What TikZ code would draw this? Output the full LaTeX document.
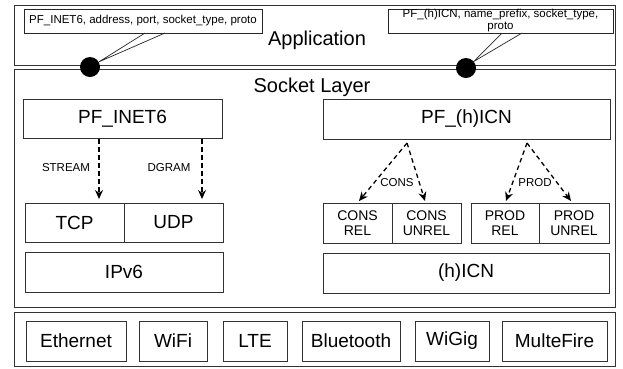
\documentclass[tikz,border=0pt]{standalone}
\usepackage{fontspec}
\setmainfont{Liberation Sans}
\usetikzlibrary{arrows.meta}
\tikzset{
  frame/.style={draw=black!80, line width=0.9pt},
  box/.style={draw=black!80, line width=0.8pt, fill=white, inner sep=0pt, align=center},
  big/.style={font=\fontsize{20}{22}\selectfont},
  mid/.style={font=\fontsize{19}{21}\selectfont},
  small/.style={font=\fontsize{14}{15}\selectfont},
  tiny/.style={font=\fontsize{11.5}{12}\selectfont},
  dasharrow/.style={draw=black, line width=1.3pt, dash pattern=on 4.5pt off 3.5pt, -{Stealth[length=9pt,width=8pt]}},
  dot/.style={circle, fill=black, inner sep=0pt, minimum size=20pt},
  callout/.style={draw=black!85, line width=0.7pt}
}
\begin{document}
\begin{tikzpicture}[x=1pt,y=-1pt]
\useasboundingbox (0,0) rectangle (623,368);
% layer frames
\node[box, frame, minimum width=601, minimum height=60] (app) at (314.5,35) {};
\node[big] (applbl) at (317,40) {Application};
\node[box, frame, minimum width=601, minimum height=238] (sock) at (314.5,188) {};
\node[big] (socklbl) at (312,87) {Socket Layer};
\node[box, frame, minimum width=601, minimum height=54] (link) at (314.5,339) {};
% socket layer boxes
\node[box, mid, minimum width=199, minimum height=39] (inet) at (122.5,118.5) {PF\_INET6};
\node[box, mid, minimum width=287, minimum height=40] (icn) at (466.5,119) {PF\_(h)ICN};
\node[box, mid, minimum width=99, minimum height=39] (tcp) at (74.5,222.5) {TCP};
\node[box, mid, minimum width=99, minimum height=39] (udp) at (173.5,222.5) {UDP};
\node[box, mid, minimum width=198, minimum height=40] (ipv6) at (124,272) {IPv6};
\node[box, small, minimum width=69, minimum height=40] (consrel) at (357.5,223) {CONS\\REL};
\node[box, small, minimum width=69, minimum height=40] (consunrel) at (426.5,223) {CONS\\UNREL};
\node[box, small, minimum width=68, minimum height=40] (prodrel) at (505,223) {PROD\\REL};
\node[box, small, minimum width=70, minimum height=40] (produnrel) at (574,223) {PROD\\UNREL};
\node[box, mid, minimum width=286, minimum height=40] (hicn) at (466,273) {(h)ICN};
% arrows, left
\coordinate (s1) at (99,139);
\coordinate (s2) at (202,139);
\coordinate (t1) at (99,199);
\coordinate (t2) at (202,199);
\draw[dasharrow] (s1) -- (t1);
\draw[dasharrow] (s2) -- (t2);
\node[tiny] (stream) at (66,168) {STREAM};
\node[tiny] (dgram) at (169,168) {DGRAM};
% arrows, right
\coordinate (ca) at (407,143);
\coordinate (pa) at (527,143);
\coordinate (c1) at (359,201);
\coordinate (c2) at (425,201);
\coordinate (p1) at (506,201);
\coordinate (p2) at (571,201);
\draw[dasharrow] (ca) -- (c1);
\draw[dasharrow] (ca) -- (c2);
\draw[dasharrow] (pa) -- (p1);
\draw[dasharrow] (pa) -- (p2);
\node[tiny, fill=white, inner sep=0.5pt] (cons) at (397,183) {CONS};
\node[tiny, fill=white, inner sep=0.5pt] (prod) at (535,183) {PROD};
% link layer
\node[box, mid, minimum width=100, minimum height=40] (eth) at (76,341) {Ethernet};
\node[box, mid, minimum width=68, minimum height=40] (wifi) at (173,341) {WiFi};
\node[box, mid, minimum width=64, minimum height=40] (lte) at (255,341) {LTE};
\node[box, mid, minimum width=98, minimum height=40] (bt) at (351,341) {Bluetooth};
\node[box, mid, minimum width=74, minimum height=40] (wigig) at (452,341) {WiGig};
\node[box, mid, minimum width=105, minimum height=40] (mf) at (554.5,341) {MulteFire};
% callouts
\node[dot] (d1) at (90,67) {};
\node[dot] (d2) at (466,68) {};
\node[box, callout, tiny, minimum width=238, minimum height=24] (cb1) at (143,21) {PF\_INET6, address, port, socket\_type, proto};
\node[box, callout, tiny, minimum width=225, minimum height=24, font=\fontsize{11.5}{12}\selectfont] (cb2) at (500.5,21) {PF\_(h)ICN, name\_prefix, socket\_type,\\proto};
\coordinate (q1a) at (145,33);
\coordinate (q1b) at (165,33);
\coordinate (q2a) at (502,33);
\coordinate (q2b) at (522,33);
\draw[callout] (q1a) -- (d1.30) -- (q1b);
\draw[callout] (q2a) -- (d2.40) -- (q2b);
\end{tikzpicture}
\end{document}
